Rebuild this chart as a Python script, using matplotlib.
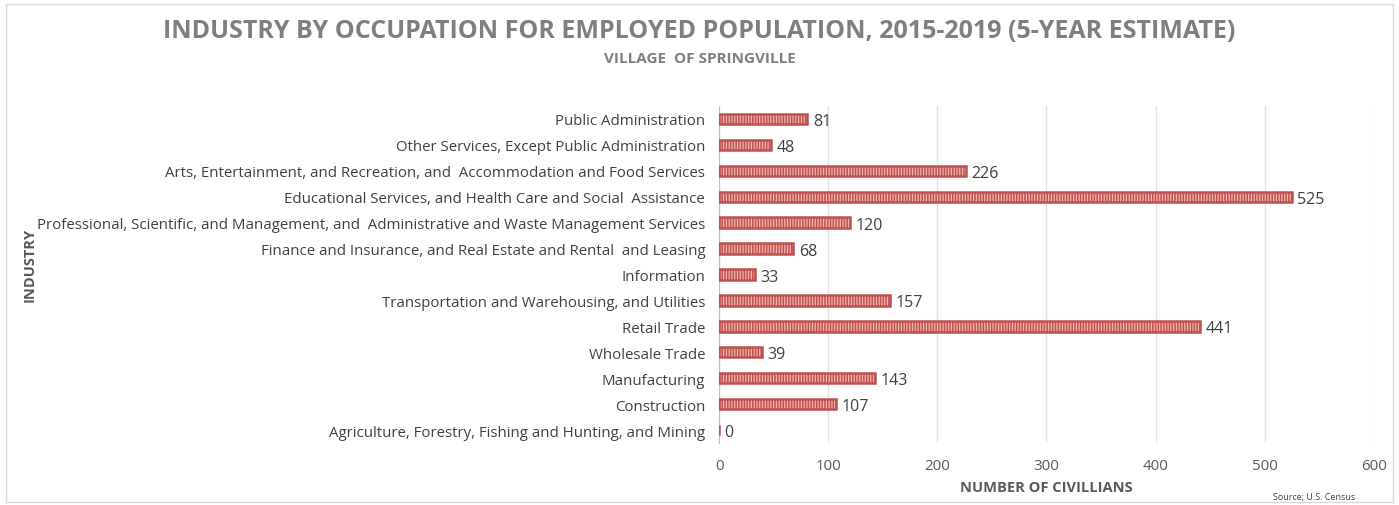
import matplotlib.pyplot as plt
from matplotlib.patches import Rectangle

industries = [
    "Agriculture, Forestry, Fishing and Hunting, and Mining",
    "Construction",
    "Manufacturing",
    "Wholesale Trade",
    "Retail Trade",
    "Transportation and Warehousing, and Utilities",
    "Information",
    "Finance and Insurance, and Real Estate and Rental  and Leasing",
    "Professional, Scientific, and Management, and  Administrative and Waste Management Services",
    "Educational Services, and Health Care and Social  Assistance",
    "Arts, Entertainment, and Recreation, and  Accommodation and Food Services",
    "Other Services, Except Public Administration",
    "Public Administration",
]
civilians = [0, 107, 143, 39, 441, 157, 33, 68, 120, 525, 226, 48, 81]

plt.rcParams['font.family'] = ['Open Sans', 'DejaVu Sans']
plt.rcParams['hatch.linewidth'] = 0.9

fig = plt.figure(figsize=(13.99, 5.06), dpi=100)
ax = fig.add_axes([0.514, 0.1225, 0.468, 0.666])

red = "#c0504d"
pos = range(len(industries))
ax.barh(pos, civilians, height=0.4, color=red, edgecolor="#f0b8b6",
        hatch="||||||", linewidth=0, zorder=3)
ax.barh(pos, civilians, height=0.4, color="none", edgecolor=red,
        linewidth=1.8, zorder=4)

# value labels at the end of each bar
for y, v in zip(pos, civilians):
    ax.text(v + 5, y, str(v), va="center_baseline", ha="left", fontsize=11.5,
            color="#404040", zorder=5)

ax.set_xlim(0, 600)
ax.set_ylim(-0.5, len(industries) - 0.5)
ax.set_yticks(list(pos))
ax.set_yticklabels(industries, fontsize=10.8, color="#404040")
ax.set_xticks(range(0, 601, 100))
ax.tick_params(axis="x", labelsize=10.8, labelcolor="#595959", length=0, pad=11)
ax.tick_params(axis="y", length=0, pad=10)
ax.grid(axis="x", color="#e3e3e3", linewidth=1, zorder=0)
for s in ["top", "right", "bottom"]:
    ax.spines[s].set_visible(False)
ax.spines["left"].set_color("#bfbfbf")

ax.set_xlabel("NUMBER OF CIVILLIANS", fontsize=10.5, fontweight="bold",
              color="#595959", labelpad=5)
fig.text(0.021, 0.476, "INDUSTRY", rotation=90, fontsize=10.5,
         fontweight="bold", color="#595959", ha="center", va="center")

fig.text(0.5, 0.937, "INDUSTRY BY OCCUPATION FOR EMPLOYED POPULATION, 2015-2019 (5-YEAR ESTIMATE)",
         ha="center", va="center", fontsize=18, fontweight="bold", color="#7f7f7f")
fig.text(0.5, 0.883, "VILLAGE  OF SPRINGVILLE", ha="center", va="center",
         fontsize=11, fontweight="bold", color="#7f7f7f")
fig.text(0.91, 0.008, "Source; U.S. Census", ha="left", va="bottom",
         fontsize=6.5, color="#404040")

fig.add_artist(Rectangle((0.004, 0.005), 0.992, 0.985, transform=fig.transFigure,
                         fill=False, edgecolor="#d9d9d9", linewidth=1))

fig.savefig("out.png", dpi=100, facecolor="white")
